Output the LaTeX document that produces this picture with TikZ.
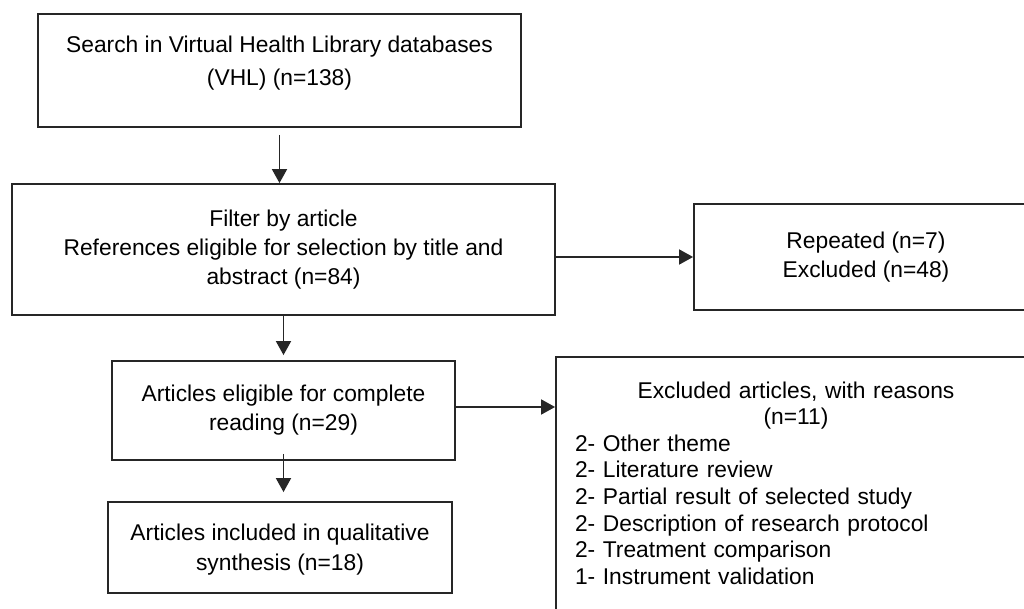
\documentclass[tikz,border=0pt]{standalone}
\usepackage{fontspec}
\setsansfont{Liberation Sans}
\usepackage{tikz}
\usetikzlibrary{arrows.meta}
\tikzset{%
  >={Triangle[width=7.5pt,length=7pt]},
  % Specifications for style of nodes:
        base/.style = {rectangle, draw=black!85, line width=0.9pt,
                       text centered, font=\sffamily\fontsize{11.4}{14.5}\selectfont},
         box/.style = {base, fill=white},
     listbox/.style = {base, fill=white, align=left, inner xsep=9.5pt,
                       font=\sffamily\fontsize{11.4}{13.3}\selectfont},
        link/.style = {->, line width=0.9pt, draw=black!85}
}

\begin{document}
\begin{tikzpicture}[x=0.5pt, y=-0.5pt, node distance=80pt, align=center]
  \useasboundingbox (0,0) rectangle (1024,609);
  % Specification of nodes (position, etc.)
  \node (search)   [box, minimum width=241.5pt, minimum height=56.5pt, text depth=10pt,
                    font=\sffamily\fontsize{11.4}{16.5}\selectfont] at (279.5,70.5)
        {Search in Virtual Health Library databases\\(VHL) (n=138)};
  \node (filter)   [box, below of=search, xshift=2pt, yshift=-9.5pt,
                    minimum width=271.5pt, minimum height=65.5pt]
        {Filter by article\\References eligible for selection by title and\\abstract (n=84)};
  \node (repeated) [box, right of=filter, xshift=211.25pt, yshift=-3.75pt,
                    minimum width=172pt, minimum height=53pt]
        {Repeated (n=7)\\Excluded (n=48)};
  \node (eligible) [box, below of=filter, yshift=-0.5pt,
                    minimum width=171.5pt, minimum height=49.5pt]
        {Articles eligible for complete\\reading (n=29)};
  \node (reasons)  [listbox, right of=eligible, xshift=176.25pt, yshift=-40.25pt,
                    minimum width=240pt, minimum height=134pt, text width=221pt]
        {{\centering Excluded articles, with reasons\\(n=11)\par}
         2- Other theme\\2- Literature review\\2- Partial result of selected study\\
         2- Description of research protocol\\2- Treatment comparison\\
         1- Instrument validation\par\vspace{8pt}\hrule height 0pt};
  \node (included) [box, below of=eligible, xshift=-1.75pt, yshift=11.5pt,
                    minimum width=172pt, minimum height=45.5pt, text depth=0.5pt,
                    font=\sffamily\fontsize{11.4}{15}\selectfont]
        {Articles included in qualitative\\synthesis (n=18)};

  \draw[link, shorten <=3.5pt] (search.south) -- (search.south |- filter.north);
  \draw[link, shorten >=2.5pt] (filter.south) -- (filter.south |- eligible.north);
  \draw[link, shorten <=-3.5pt, shorten >=4.5pt] (eligible.south) -- (eligible.south |- included.north);
  \draw[link] (filter.east |- repeated.west) -- (repeated.west);
  \draw[link] ([yshift=1.75pt]eligible.east) -- ([yshift=1.75pt]eligible.east -| reasons.west);
\end{tikzpicture}
\end{document}
